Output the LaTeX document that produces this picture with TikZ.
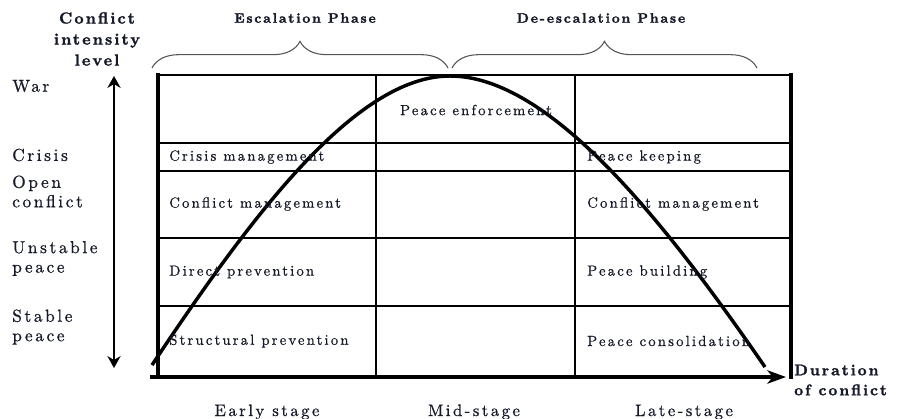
\documentclass[tikz,border=0pt]{standalone}
\usepackage{fontspec}
\setmainfont{lmroman10-regular.otf}[LetterSpace=15, FakeBold=0.7]
\newfontfamily\headfont{lmroman10-bold.otf}[LetterSpace=13, FakeBold=1.6]
\usepackage{xcolor}
\usetikzlibrary{arrows.meta, decorations.pathreplacing}
\definecolor{LabelInk}{HTML}{15192A}
\definecolor{BraceGray}{HTML}{555555}
\tikzset{
    celltext/.style={anchor=west, inner sep=0pt, text=LabelInk,
                     font=\fontsize{11}{13}\selectfont},
    leveltext/.style={anchor=west, inner sep=0pt, align=left, text=LabelInk,
                      font=\fontsize{13}{14.6}\selectfont},
    stagetext/.style={anchor=base, inner sep=0pt, text=LabelInk,
                      font=\fontsize{12.5}{14.6}\selectfont},
    phasetext/.style={inner sep=0pt, text=LabelInk,
                      font=\headfont\fontsize{10.3}{12}\selectfont},
    gridline/.style={line width=0.8pt},
    framebar/.style={line width=3.6pt},
    phasebrace/.style={decorate, decoration={brace, amplitude=20pt},
                       BraceGray, line width=0.8pt},
}

\begin{document}
\begin{tikzpicture}[x=0.75pt, y=-0.75pt]
    \useasboundingbox (0,0) rectangle (898,418);

    % Grid of the phase table
    \foreach \y in {143,171,238,306}
        \draw[gridline] (158,\y) -- (791,\y);
    \foreach \x in {376,575}
        \draw[gridline] (\x,75) -- (\x,376);

    % Frame
    \draw[line width=2.2pt] (156,75) -- (793,75);
    \draw[framebar] (158,73) -- (158,379);
    \draw[framebar] (791,73) -- (791,379);

    % Time axis along the bottom
    \coordinate (tstart) at (150,377);
    \coordinate (tend) at (786,377);
    \draw[framebar, -{Stealth[length=14pt, width=10pt, inset=4pt]}] (tstart) -- (tend);

    % Intensity axis
    \coordinate (itop) at (114,76);
    \coordinate (ibot) at (114,368);
    \draw[line width=1.1pt, {Stealth[length=9pt, width=10pt, inset=3pt]}-{Stealth[length=9pt, width=10pt, inset=3pt]}]
        (ibot) -- (itop);

    % Conflict curve
    \draw[line width=2.6pt]
        (152,365) .. controls (250,218) and (355,76) .. (450,76)
        .. controls (550,76) and (665,222) .. (765,367);

    % Phase braces
    \draw[phasebrace] (152,68) -- (448,68);
    \draw[phasebrace] (452,68) -- (757,68);
    \node[phasetext] (escal) at (305,18) {Escalation Phase};
    \node[phasetext] (deescal) at (601,18) {De-escalation Phase};

    % Axis titles
    \node[inner sep=0pt, align=center, text=LabelInk,
          font=\headfont\fontsize{12}{15.75}\selectfont] (ititle) at (97,39)
        {Conflict\\intensity\\level};
    \node[inner sep=0pt, anchor=west, align=left, text=LabelInk,
          font=\headfont\fontsize{11.6}{15}\selectfont] (ttitle) at (794,380)
        {Duration\\of conflict};

    % Intensity levels
    \node[leveltext] (war) at (12,86) {War};
    \node[leveltext] (crisis) at (12,155) {Crisis};
    \node[leveltext] (open) at (12,191.5) {Open\\conflict};
    \node[leveltext] (unstable) at (12,258.5) {Unstable\\peace};
    \node[leveltext] (stable) at (12,327) {Stable\\peace};

    % Early stage column
    \node[celltext] (crismgmt) at (169,157) {Crisis management};
    \node[celltext] (confmgmtl) at (169,204) {Conflict management};
    \node[celltext] (direct) at (169,272) {Direct prevention};
    \node[celltext] (struct) at (169,341) {Structural prevention};

    % Mid stage column
    \node[celltext, anchor=center] (enforce) at (476,110) {Peace enforcement};

    % Late stage column
    \node[celltext] (keeping) at (587,157) {Peace keeping};
    \node[celltext] (confmgmtr) at (587,204) {Conflict management};
    \node[celltext] (building) at (587,272) {Peace building};
    \node[celltext] (consol) at (587,341) {Peace consolidation};

    % Stages
    \node[stagetext] (early) at (267,416) {Early stage};
    \node[stagetext] (mid) at (474,416) {Mid-stage};
    \node[stagetext] (late) at (684,416) {Late-stage};
\end{tikzpicture}
\end{document}
